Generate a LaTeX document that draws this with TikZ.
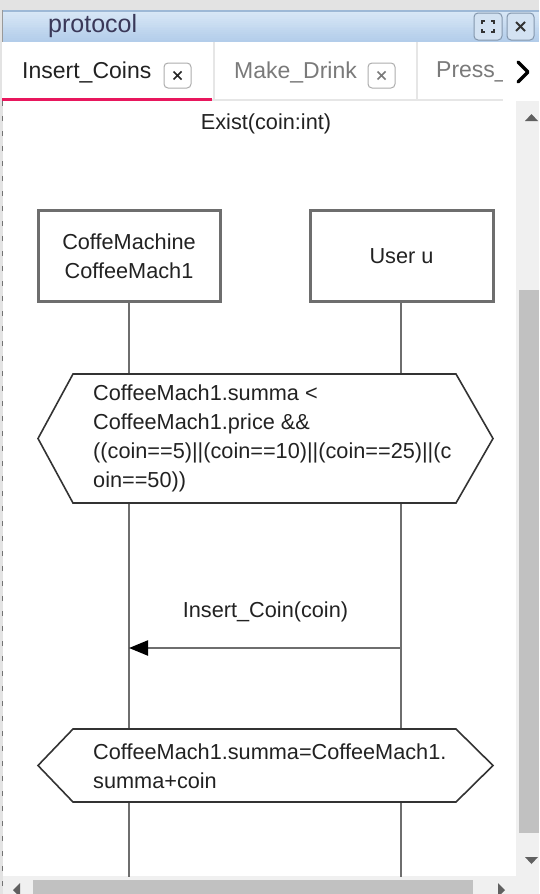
\documentclass[tikz,border=0pt]{standalone}
\usepackage{fontspec}
\setmainfont{Liberation Sans}
\usetikzlibrary{arrows.meta}
\definecolor{chrome}{HTML}{E3E3E3}
\definecolor{titletop}{HTML}{D8E7F6}
\definecolor{titlebot}{HTML}{B3CDEA}
\definecolor{titleedge}{HTML}{9DB8D6}
\definecolor{titletxt}{HTML}{3A3858}
\definecolor{btnfill}{HTML}{D3E2F2}
\definecolor{btnline}{HTML}{8497AD}
\definecolor{tabline}{HTML}{E6E6E6}
\definecolor{tabgray}{HTML}{7A7A7A}
\definecolor{accent}{HTML}{E8175D}
\definecolor{scrollbg}{HTML}{F0F0F0}
\definecolor{thumb}{HTML}{C1C1C1}
\definecolor{arrowgray}{HTML}{606060}
\definecolor{boxline}{HTML}{6E6E6E}
\definecolor{hexline}{HTML}{333333}
\definecolor{txt}{HTML}{222222}
\tikzset{
  dtext/.style={font=\fontsize{21.7}{29}\selectfont, text=txt, inner sep=0pt},
  lifebox/.style={draw=boxline, line width=3pt, fill=white, minimum width=182pt, minimum height=91pt, align=center, dtext},
  life/.style={draw=boxline, line width=2.2pt},
  hex/.style={draw=hexline, line width=1.6pt, fill=white, line join=miter},
  msg/.style={draw=boxline, line width=2.2pt, -{Triangle[length=19pt,width=15pt,fill=black,color=black]}},
  tabtxt/.style={font=\fontsize{23}{28}\selectfont, inner sep=0pt, anchor=west},
  xbox/.style={draw=black!32, line width=1pt, rounded corners=4pt, fill=white},
  xmark/.style={line width=1.7pt},
  btn/.style={draw=btnline, line width=1pt, rounded corners=4pt, fill=btnfill},
  sarrow/.style={fill=arrowgray, draw=none}
}
\begin{document}
\begin{tikzpicture}[x=1pt,y=-1pt]
\useasboundingbox (0,0) rectangle (539,894);
% window chrome
\fill[chrome] (0,0) rectangle (539,894);
% title bar (gradient in bands)
\foreach \k in {0,...,15}{
  \pgfmathsetmacro{\mix}{100-\k*100/15}
  \fill[titletop!\mix!titlebot] (2,{11+\k*31/16}) rectangle (539,{11+(\k+1)*31/16+0.3});
}
\draw[titleedge, line width=1.4pt] (2,11) -- (539,11);
\draw[black!40, line width=1pt] (2.5,10) -- (2.5,42);
\node[font=\fontsize{25}{30}\selectfont, text=titletxt, inner sep=0pt, anchor=west] (title) at (48,26) {protocol};
\draw[btn] (474,13) rectangle (502,40);
\draw[btn] (507,13) rectangle (534,40);
\draw[black!80, line width=1.6pt] (482,24) -- (482,21) -- (485,21) (491,21) -- (494,21) -- (494,24) (494,29) -- (494,32) -- (491,32) (485,32) -- (482,32) -- (482,29);
\draw[black!80, line width=1.8pt] (516,22) -- (525,31) (525,22) -- (516,31);
% tab bar
\fill[white] (2,42) rectangle (539,101);
\draw[tabline, line width=1.2pt] (214,42) -- (214,99) (417,42) -- (417,99);
\draw[tabline, line width=1.2pt] (212,100) -- (503,100);
\node[tabtxt, text=txt] (tab1) at (22,72) {Insert\_Coins};
\draw[xbox] (164,63) rectangle (191,88);
\draw[xmark, black!85] (173.5,71.5) -- (181.5,79.5) (181.5,71.5) -- (173.5,79.5);
\node[tabtxt, text=tabgray] (tab2) at (234,72) {Make\_Drink};
\draw[xbox] (368,63) rectangle (395,88);
\draw[xmark, tabgray] (377.5,71.5) -- (385.5,79.5) (385.5,71.5) -- (377.5,79.5);
\node[tabtxt, text=tabgray] (tab3) at (436,72) {Press\_};
\fill[white] (503,44) rectangle (539,99);
\draw[black, line width=3.4pt, line cap=round, line join=round] (518,62) -- (528,72) -- (518,82);
\draw[accent, line width=3pt] (2,99.5) -- (212,99.5);
% content area
\fill[white] (3,101) rectangle (516,876);
\draw[black!55, line width=1.6pt, dash pattern=on 5pt off 10pt] (2.5,101) -- (2.5,894);
% vertical scrollbar
\fill[scrollbg] (516,101) rectangle (539,876);
\fill[thumb] (519,290) rectangle (539,833);
\fill[sarrow] (525,121) -- (538,121) -- (531.5,114) -- cycle;
\fill[sarrow] (525,857) -- (538,857) -- (531.5,864) -- cycle;
% horizontal scrollbar
\fill[scrollbg] (3,876) rectangle (539,894);
\fill[thumb] (33,880) rectangle (473,894);
\fill[sarrow] (20,883) -- (20,897) -- (13,890) -- cycle;
\fill[sarrow] (498,883) -- (498,897) -- (505,890) -- cycle;
% diagram
\node[dtext] (exist) at (266,124) {Exist(coin:int)};
\node[lifebox] (b1) at (129,256) {CoffeMachine\\CoffeeMach1};
\node[lifebox, minimum width=183pt] (b2) at (401.5,256) {User u};
\coordinate (e1) at (129,877);
\coordinate (e2) at (401,877);
\draw[life] (b1.south) -- (e1);
\draw[life] (b2.south -| e2) -- (e2);
\draw[hex] (38,438.5) -- (73,374) -- (456,374) -- (493,438.5) -- (456,503) -- (73,503) -- cycle;
\node[dtext, align=left, anchor=west] (g1) at (93,438.5) {CoffeeMach1.summa <\\CoffeeMach1.price \&\&\\((coin==5)||(coin==10)||(coin==25)||(c\\oin==50))};
\coordinate (m2) at (401,648);
\coordinate (m1) at (129,648);
\draw[msg] (m2) -- (m1);
\node[dtext] (lbl) at (265.5,612) {Insert\_Coin(coin)};
\draw[hex] (38,765.5) -- (73,729) -- (456,729) -- (493,765.5) -- (456,802) -- (73,802) -- cycle;
\node[dtext, align=left, anchor=west] (g2) at (93,766.5) {CoffeeMach1.summa=CoffeeMach1.\\summa+coin};
\end{tikzpicture}
\end{document}
